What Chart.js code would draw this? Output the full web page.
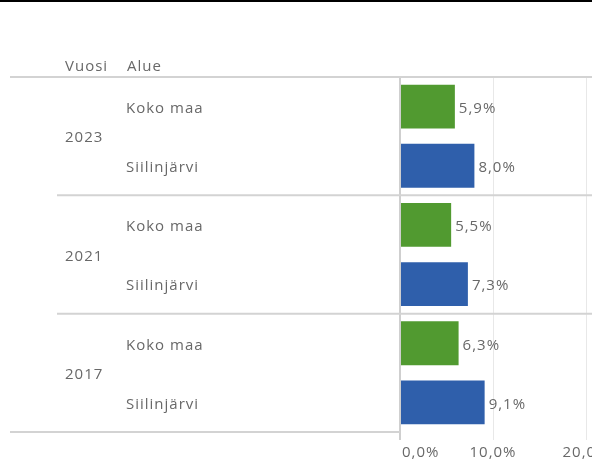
<!DOCTYPE html>
<html>
<head>
<meta charset="utf-8">
<script src="https://cdn.jsdelivr.net/npm/chart.js@4.4.1/dist/chart.umd.min.js"></script>
<style>
  html, body { margin: 0; padding: 0; background: #fff; overflow: hidden; width: 592px; height: 466px; }
  #topbar { position: absolute; left: 0; top: 0; width: 592px; height: 2px; background: #000; z-index: 2; }
  #wrap { position: absolute; left: 0; top: 0; width: 660px; height: 466px; }
</style>
</head>
<body>
<div id="topbar"></div>
<div id="wrap"><canvas id="myChart"></canvas></div>
<script>
var years = ['2023', '2021', '2017'];
var areas = ['Koko maa', 'Siilinjärvi'];
var kokoMaa = [5.9, 5.5, 6.3];
var siilinjarvi = [8.0, 7.3, 9.1];
var xTicks = [0, 10, 20];
var headers = ['Vuosi', 'Alue'];

var areaColors = ['#519a30', '#2f5fab'];
var textColor = '#686868';
var font = '15px "Open Sans", sans-serif';

// one row per year + area
var labels = [], values = [], colors = [];
for (let i = 0; i < years.length; i++) {
    labels.push(years[i] + ' ' + areas[0]);
    values.push(kokoMaa[i]);
    colors.push(areaColors[0]);
    labels.push(years[i] + ' ' + areas[1]);
    values.push(siilinjarvi[i]);
    colors.push(areaColors[1]);
}

function fmt(v) {
    return v.toFixed(1).replace('.', ',') + '%';
}

var tablePlugin = {
    id: 'table',
    afterDatasetsDraw: function (chart) {
        var ctx = chart.ctx;
        var y = chart.scales.y;
        var x = chart.scales.x;
        var area = chart.chartArea;
        ctx.save();
        ctx.font = font;
        ctx.letterSpacing = '1px';
        ctx.fillStyle = textColor;
        ctx.textBaseline = 'middle';

        // header
        ctx.textAlign = 'left';
        ctx.fillText(headers[0], 65, 67);
        ctx.fillText(headers[1], 127, 67);

        // separator lines
        ctx.strokeStyle = '#d3d3d3';
        ctx.lineWidth = 2;
        ctx.beginPath();
        ctx.moveTo(10, area.top);
        ctx.lineTo(chart.width, area.top);
        for (let g = 1; g < years.length; g++) {
            var yy = (y.getPixelForValue(g * 2 - 1) + y.getPixelForValue(g * 2)) / 2;
            ctx.moveTo(57, yy);
            ctx.lineTo(chart.width, yy);
        }
        ctx.moveTo(10, area.bottom);
        ctx.lineTo(area.left, area.bottom);
        ctx.stroke();

        // row labels
        for (let i = 0; i < labels.length; i++) {
            var py = y.getPixelForValue(i);
            ctx.fillText(areas[i % 2], 126, py + 2);
            if (i % 2 === 0) {
                var my = (py + y.getPixelForValue(i + 1)) / 2;
                ctx.fillText(years[i / 2], 65, my + 2);
            }
        }

        // value labels
        var meta = chart.getDatasetMeta(0);
        meta.data.forEach(function (bar, i) {
            ctx.fillText(fmt(values[i]), bar.x + 4, bar.y + 2);
        });

        // x tick labels
        xTicks.forEach(function (t, i) {
            var px = x.getPixelForValue(t);
            ctx.textAlign = i === 0 ? 'left' : 'center';
            ctx.fillText(fmt(t), i === 0 ? px + 2 : px, 453);
        });
        ctx.restore();
    }
};

var ctx = document.getElementById('myChart').getContext('2d');
var myChart = new Chart(ctx, {
    type: 'bar',
    data: {
        labels: labels,
        datasets: [{
            data: values,
            backgroundColor: colors,
            barPercentage: 0.74,
            categoryPercentage: 1
        }]
    },
    options: {
        indexAxis: 'y',
        responsive: true,
        maintainAspectRatio: false,
        animation: false,
        layout: { padding: { left: 400, top: 77, right: 27.5, bottom: 0 } },
        plugins: { legend: { display: false }, tooltip: { enabled: false } },
        scales: {
            y: { display: false },
            x: {
                min: 0,
                max: 25,
                border: { display: false },
                grid: {
                    color: function (c) { return c.tick && c.tick.value === 0 ? '#cfcfcf' : '#e8e8e8'; },
                    lineWidth: function (c) { return c.tick && c.tick.value === 0 ? 2 : 1; },
                    tickLength: 8
                },
                ticks: { display: false, stepSize: 10, includeBounds: false },
                afterFit: function (scale) { scale.height = 34; }
            }
        }
    },
    plugins: [tablePlugin]
});
</script>
</body>
</html>
